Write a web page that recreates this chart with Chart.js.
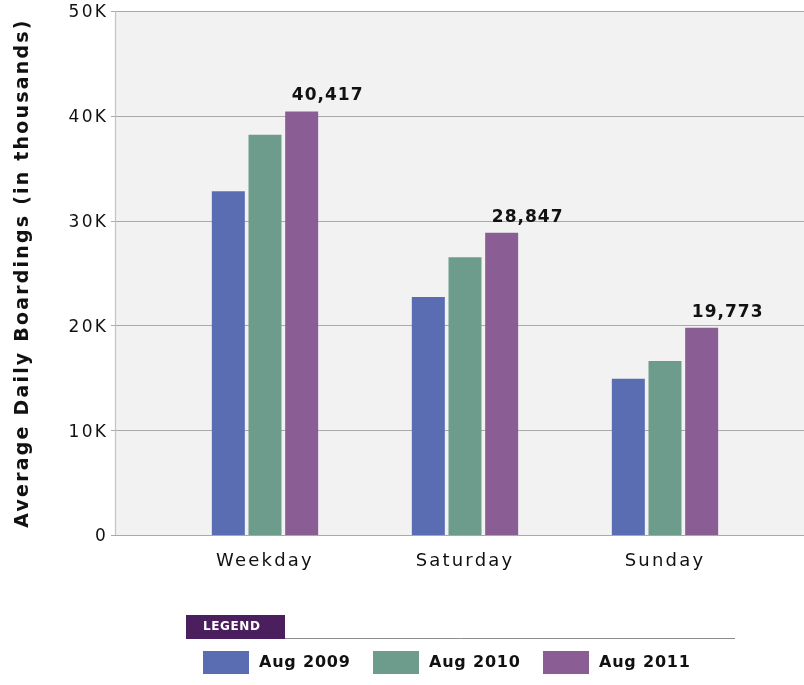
<!DOCTYPE html>
<html>
<head>
<meta charset="utf-8">
<script src="https://cdn.jsdelivr.net/npm/chart.js@4.4.1/dist/chart.umd.min.js"></script>
<style>
  html, body { margin: 0; padding: 0; background: #ffffff; }
  #wrap { width: 804px; height: 685px; position: relative; }
</style>
</head>
<body>
<div id="wrap"><canvas id="ridership"></canvas></div>
<script>
// Chart data
const dayTypes = ["Weekday", "Saturday", "Sunday"];
const seriesNames = ["Aug 2009", "Aug 2010", "Aug 2011"];
const aug2009 = [32800, 22700, 14900];
const aug2010 = [38200, 26500, 16600];
const aug2011 = [40417, 28847, 19773];
const seriesColors = ["#5a6db2", "#6e9c8c", "#8a5e95"];
const yTickValues = [0, 10000, 20000, 30000, 40000, 50000];
const yTickLabels = ["0", "10K", "20K", "30K", "40K", "50K"];

const FONT = "'DejaVu Sans', Verdana, sans-serif";

// Plot background + gridlines spanning the full panel
const panelPlugin = {
    id: "panel",
    beforeDraw(chart) {
        const ctx = chart.ctx;
        const y = chart.scales.y;
        const left = 115, right = 804;
        const top = y.getPixelForValue(50000);
        const bottom = y.getPixelForValue(0);
        ctx.save();
        ctx.fillStyle = "#f2f2f2";
        ctx.fillRect(left, top, right - left, bottom - top);
        ctx.strokeStyle = "#a9a9a9";
        ctx.lineWidth = 1.2;
        yTickValues.forEach(v => {
            const py = Math.round(y.getPixelForValue(v)) + 0.5;
            ctx.beginPath();
            ctx.moveTo(left - 4, py);
            ctx.lineTo(right, py);
            ctx.stroke();
        });
        ctx.strokeStyle = "#c4c4c4";
        ctx.beginPath();
        ctx.moveTo(left + 0.5, top);
        ctx.lineTo(left + 0.5, bottom);
        ctx.stroke();
        ctx.restore();
        // wide tracking for the axis text, like the original artwork
        ctx.letterSpacing = "2.2px";
    },
    beforeDatasetsDraw(chart) {
        chart.ctx.letterSpacing = "0px";
    }
};

// Value labels above the Aug 2011 bars
const valueLabelPlugin = {
    id: "valueLabels",
    afterDatasetsDraw(chart) {
        const ctx = chart.ctx;
        const meta = chart.getDatasetMeta(2);
        ctx.save();
        ctx.letterSpacing = "1px";
        ctx.font = "bold 17px " + FONT;
        ctx.fillStyle = "#111111";
        ctx.textAlign = "center";
        ctx.textBaseline = "bottom";
        meta.data.forEach((bar, i) => {
            ctx.fillText(aug2011[i].toLocaleString("en-US"), bar.x + 26, bar.y - 7);
        });
        ctx.restore();
    }
};

// Custom legend block with the purple "LEGEND" tab
const legendPlugin = {
    id: "legendBlock",
    afterDraw(chart) {
        const ctx = chart.ctx;
        ctx.save();
        ctx.strokeStyle = "#8c8c8c";
        ctx.lineWidth = 1;
        ctx.beginPath();
        ctx.moveTo(186, 638.5);
        ctx.lineTo(735, 638.5);
        ctx.stroke();
        ctx.fillStyle = "#4b1f5e";
        ctx.fillRect(186, 615, 99, 24);
        ctx.fillStyle = "#ffffff";
        ctx.letterSpacing = "0.6px";
        ctx.font = "bold 12px " + FONT;
        ctx.textBaseline = "middle";
        ctx.textAlign = "left";
        ctx.fillText("LEGEND", 203, 627);

        ctx.letterSpacing = "0.8px";
        chart.data.datasets.forEach((ds, i) => {
            const x = 203 + i * 170;
            ctx.fillStyle = ds.backgroundColor;
            ctx.fillRect(x, 651, 46, 23);
            ctx.fillStyle = "#111111";
            ctx.font = "bold 16px " + FONT;
            ctx.fillText(ds.label, x + 56, 663);
        });
        ctx.restore();
    }
};

const ctx = document.getElementById("ridership").getContext("2d");
new Chart(ctx, {
    type: "bar",
    data: {
        labels: dayTypes,
        datasets: [
            { label: seriesNames[0], data: aug2009, backgroundColor: seriesColors[0] },
            { label: seriesNames[1], data: aug2010, backgroundColor: seriesColors[1] },
            { label: seriesNames[2], data: aug2011, backgroundColor: seriesColors[2] }
        ]
    },
    options: {
        responsive: true,
        maintainAspectRatio: false,
        animation: false,
        layout: { padding: { top: 11, right: 39, bottom: 0, left: 0 } },
        datasets: {
            bar: { categoryPercentage: 0.55, barPercentage: 0.9 }
        },
        plugins: {
            legend: { display: false },
            tooltip: { enabled: false }
        },
        scales: {
            x: {
                grid: { display: false, drawTicks: false },
                border: { display: false },
                ticks: {
                    color: "#111111",
                    padding: 16,
                    font: { family: FONT, size: 18 }
                },
                afterFit(scale) { scale.height = 150; }
            },
            y: {
                min: 0,
                max: 50000,
                grid: { display: false, drawTicks: false },
                border: { display: false },
                afterBuildTicks(scale) {
                    scale.ticks = yTickValues.map(v => ({ value: v }));
                },
                ticks: {
                    color: "#111111",
                    padding: 57,
                    labelOffset: 2,
                    font: { family: FONT, size: 17 },
                    callback: (v) => yTickLabels[yTickValues.indexOf(v)]
                },
                title: {
                    display: true,
                    text: "Average Daily Boardings (in thousands)",
                    color: "#111111",
                    font: { family: FONT, size: 19, weight: "bold" },
                    padding: { top: 12, bottom: 0 }
                },
                afterFit(scale) {
                    scale.width = 165;
                    scale.paddingTop = 0;
                    scale.paddingBottom = 0;
                }
            }
        }
    },
    plugins: [panelPlugin, valueLabelPlugin, legendPlugin]
});
</script>
</body>
</html>
